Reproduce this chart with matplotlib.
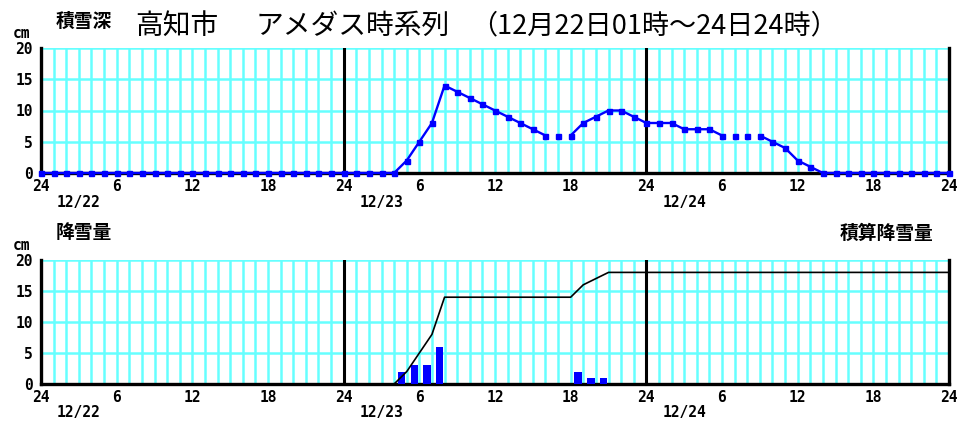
import numpy as np
import matplotlib
matplotlib.use("Agg")
import matplotlib.pyplot as plt

# hourly data, hour 0 = 12/21 24時 ... hour 72 = 12/24 24時
hours = np.arange(0, 73)

# snow depth (cm)
depth = [0] * 29 + [2, 5, 8, 14, 13, 12, 11, 10, 9, 8, 7, 6, 6, 6, 8, 9, 10, 10, 9, 8,
                    8, 8, 7, 7, 7, 6, 6, 6, 6, 5, 4, 2, 1] + [0] * 11
# hour pairs where the depth line is broken (missing data)
depth_gaps = [(40, 41), (41, 42), (54, 55), (55, 56), (56, 57)]

# hourly snowfall (cm)
snowfall_hours = [29, 30, 31, 32, 43, 44, 45]
snowfall_vals = [2, 3, 3, 6, 2, 1, 1]

xtick_pos = list(range(0, 73, 6))
xtick_labels = ["24", "6", "12", "18"] * 3 + ["24"]
date_labels = ["12/22", "12/23", "12/24"]
ytick_pos = [0, 5, 10, 15, 20]

W, H = 961, 421
GRID = "#66ffff"
BLUE = "#0000ff"
CJK = ["Noto Sans CJK JP", "DejaVu Sans"]
NUM = "DejaVu Sans Mono"

fig = plt.figure(figsize=(W / 100, H / 100), dpi=100)


def px_box(l, t, r, b):
    return [l / W, 1 - b / H, (r - l) / W, (b - t) / H]


def ftext(x, y, s, **kw):
    fig.text(x / W, 1 - y / H, s, **kw)


def setup(ax):
    ax.set_xlim(0, 72)
    ax.set_ylim(0, 20)
    for h in range(1, 72):
        ax.axvline(h, color=GRID, lw=1.8, zorder=0)
    for v in [5, 10, 15, 20]:
        ax.axhline(v, color=GRID, lw=1.8, zorder=0)
    for d in [24, 48]:
        ax.axvline(d, color="black", lw=2.2, zorder=1)
    ax.spines["top"].set_visible(False)
    for s in ["left", "bottom", "right"]:
        ax.spines[s].set_linewidth(2.4)
        ax.spines[s].set_color("black")
    ax.set_xticks(xtick_pos)
    ax.set_xticklabels(xtick_labels, fontfamily=NUM, fontweight="bold", fontsize=10.5)
    ax.set_yticks(ytick_pos)
    ax.set_yticklabels([str(v) for v in ytick_pos], fontfamily=NUM, fontweight="bold", fontsize=10.5)
    ax.tick_params(length=0, pad=4)
    ax.tick_params(axis="y", pad=6)


# ---- top: snow depth
ax1 = fig.add_axes(px_box(41, 48, 949, 173))
setup(ax1)
start = 0
for a, b in depth_gaps + [(72, None)]:
    if a > start:
        ax1.plot(hours[start:a + 1], depth[start:a + 1], color=BLUE, lw=1.7, zorder=3, clip_on=False)
    start = b if b is not None else 72
ax1.plot(hours, depth, ls="none", marker="s", ms=3.6, color=BLUE, zorder=4, clip_on=False)

# ---- bottom: snowfall + cumulative
ax2 = fig.add_axes(px_box(41, 260, 949, 384))
setup(ax2)
hourly = np.zeros(len(hours))
hourly[snowfall_hours] = snowfall_vals
cum = np.cumsum(hourly)
ax2.bar(np.array(snowfall_hours) - 0.7, snowfall_vals, width=0.6, align="edge", color=BLUE, zorder=3)
ax2.plot(hours, cum, color="black", lw=1.2, zorder=4)

# date labels under each panel
for i, d in enumerate(date_labels):
    x = 41 + (i * 24 + 3) * 908 / 72
    ftext(x, 202, d, ha="center", va="center", fontfamily=NUM, fontweight="bold", fontsize=10.5)
    ftext(x, 413, d, ha="center", va="center", fontfamily=NUM, fontweight="bold", fontsize=10.5)

# labels
ftext(22, 34, "cm", ha="center", va="center", fontfamily=NUM, fontweight="bold", fontsize=10.5)
ftext(22, 246, "cm", ha="center", va="center", fontfamily=NUM, fontweight="bold", fontsize=10.5)
ftext(56, 21, "積雪深", ha="left", va="center", family=CJK, fontweight="bold", fontsize=13.5)
ftext(56, 233, "降雪量", ha="left", va="center", family=CJK, fontweight="bold", fontsize=13.5)
ftext(933, 233, "積算降雪量", ha="right", va="center", family=CJK, fontweight="bold", fontsize=13.5)

# title
ftext(135, 26, "高知市", ha="left", va="center", family=CJK, fontsize=20)
ftext(256, 26, "アメダス時系列", ha="left", va="center", family=CJK, fontsize=20)
ftext(470, 26, "（12月22日01時～24日24時）", ha="left", va="center", family=CJK, fontsize=19.5)

fig.savefig("out.png", dpi=100)
